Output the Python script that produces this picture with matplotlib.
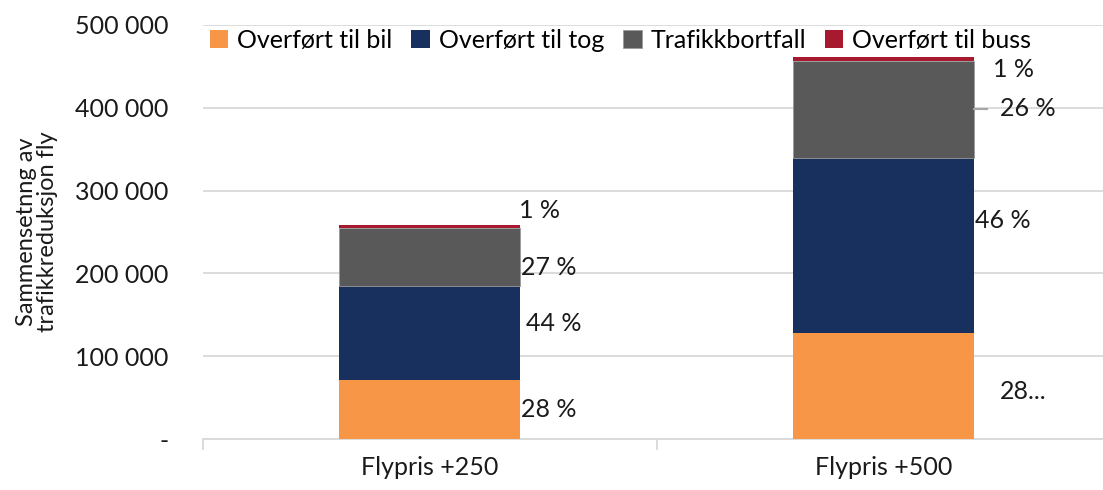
import numpy as np
import matplotlib.pyplot as plt
from matplotlib.ticker import FuncFormatter

plt.rcParams['font.family'] = ['Lato', 'DejaVu Sans']

fig_name = "out.png"

# data
categories = ["Flypris +250", "Flypris +500"]
series_names = ["Overført til bil", "Overført til tog", "Trafikkbortfall", "Overført til buss"]
bil = [71400, 128300]
tog = [113800, 210700]
bortfall = [70200, 118100]
buss = [3600, 4600]
pct_labels = [["28 %", "44 %", "27 %", "1 %"],
              ["28...", "46 %", "26 %", "1 %"]]

colors = ['#F79646', '#17305E', '#595959', '#A6192E']

# label nudges in points (Excel labels moved by hand)
label_dx = [[0.7, 4.3, 0.7, -0.7], [18.7, 0.7, 18.7, 13.7]]
label_dy = [[0, 7, -8, 10], [-4, 18, 1, -9]]

FS = 18

fig = plt.figure(figsize=(11.03, 4.9), dpi=100)
ax = fig.add_axes([203/1103, 1-439/490, 907/1103, 414/490])

x = np.arange(len(categories))
width = 0.4
stack = [bil, tog, bortfall, buss]
bottom = np.zeros(len(categories))
for k, vals in enumerate(stack):
    vals = np.array(vals)
    ax.bar(x, vals, width, bottom=bottom, color=colors[k], label=series_names[k], zorder=3,
           edgecolor='#9a9a9a' if k == 2 else colors[k], linewidth=0.6 if k == 2 else 0)
    for i in range(len(categories)):
        if k == 3:
            yc = bottom[i] + vals[i]
        else:
            yc = bottom[i] + vals[i] / 2
        ax.annotate(pct_labels[i][k], xy=(x[i] + width/2, yc),
                    xytext=(label_dx[i][k], label_dy[i][k]), textcoords='offset points',
                    ha='left', va='center', fontsize=FS, color='#1a1a1a', zorder=4)
    bottom = bottom + vals

# leader line for 26 %
yl = bil[1] + tog[1] + bortfall[1] / 2
ax.plot([x[1] + width/2, x[1] + width/2 + 0.028], [yl, yl], color='#a6a6a6', lw=1.5, zorder=4)

ax.set_xlim(-0.5, 1.5)
ax.set_ylim(0, 500000)
ax.set_yticks(np.arange(0, 500001, 100000))
ax.yaxis.set_major_formatter(FuncFormatter(
    lambda v, p: '-' if v == 0 else '{:,.0f}'.format(v).replace(',', ' ')))
ax.set_xticks(x)
ax.set_xticklabels(categories)
ax.set_xticks([-0.5, 0.5, 1.5], minor=True)

ax.grid(True, axis='y', color='#d9d9d9', lw=1.3, zorder=0)
for s in ['top', 'right', 'left']:
    ax.spines[s].set_visible(False)
ax.spines['bottom'].set_color('#d9d9d9')
ax.spines['bottom'].set_linewidth(1.3)
ax.tick_params(axis='y', length=0, labelsize=FS, pad=25, colors='#1a1a1a')
ax.tick_params(axis='x', which='major', length=0, labelsize=FS, pad=12, colors='#1a1a1a')
ax.tick_params(axis='x', which='minor', length=8, width=1.3, color='#d9d9d9')

ax.set_ylabel("Sammensetnng av\ntrafikkreduksjon fly", fontsize=17, color='#1a1a1a',
              linespacing=1.0)
ax.yaxis.set_label_coords(-0.16, 0.5)

leg = ax.legend(loc='upper left', bbox_to_anchor=(-0.005, 1.018), ncol=4, frameon=False,
                fontsize=FS, handlelength=0.75, handleheight=0.75, handletextpad=0.35,
                columnspacing=0.75, borderaxespad=0.05)

plt.savefig(fig_name, dpi=100, facecolor='w')
